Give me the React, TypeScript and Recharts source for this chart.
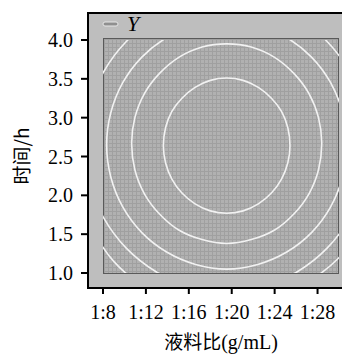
import React from 'react';
import { ComposedChart, Line, XAxis, YAxis, Legend } from 'recharts';

// axis ticks
const xTicks = [8, 12, 16, 20, 24, 28];
const yTicks = [1.0, 1.5, 2.0, 2.5, 3.0, 3.5, 4.0];
const legendLabel = 'Y';

// contour lines, [ratio, time]
const contour1 = [
  [25.43, 2.64], [25.23, 2.87], [24.64, 3.08], [23.7, 3.25], [22.48, 3.39], [21.06, 3.48],
  [19.53, 3.51], [18.0, 3.48], [16.58, 3.39], [15.36, 3.25], [14.42, 3.08], [13.83, 2.87],
  [13.63, 2.64], [13.83, 2.42], [14.42, 2.21], [15.36, 2.03], [16.58, 1.89], [18.0, 1.8],
  [19.53, 1.77], [21.06, 1.8], [22.48, 1.89], [23.7, 2.03], [24.64, 2.21], [25.23, 2.42],
];
const contour2 = [
  [28.39, 2.67], [28.09, 3.0], [27.2, 3.31], [25.79, 3.57], [23.96, 3.78], [21.82, 3.91],
  [19.53, 3.95], [17.24, 3.91], [15.1, 3.78], [13.27, 3.57], [11.86, 3.31], [10.97, 3.0],
  [10.67, 2.67], [10.97, 2.33], [11.86, 2.02], [13.27, 1.76], [15.1, 1.55], [17.24, 1.43],
  [19.53, 1.38], [21.82, 1.43], [23.96, 1.55], [25.79, 1.76], [27.2, 2.02], [28.09, 2.33],
];
const contour3 = [
  [30.72, 2.65], [30.34, 3.06], [29.22, 3.45], [27.44, 3.78], [25.13, 4.03], [22.43, 4.19],
  [19.53, 4.25], [16.63, 4.19], [13.93, 4.03], [11.62, 3.78], [9.84, 3.45], [8.72, 3.06],
  [8.34, 2.65], [8.72, 2.24], [9.84, 1.85], [11.62, 1.52], [13.93, 1.27], [16.63, 1.11],
  [19.53, 1.05], [22.43, 1.11], [25.13, 1.27], [27.44, 1.52], [29.22, 1.85], [30.34, 2.24],
];
const contour4 = [
  [32.77, 2.65], [32.32, 3.14], [31.0, 3.59], [28.89, 3.98], [26.15, 4.28], [22.96, 4.47],
  [19.53, 4.53], [16.1, 4.47], [12.91, 4.28], [10.17, 3.98], [8.06, 3.59], [6.74, 3.14],
  [6.29, 2.65], [6.74, 2.16], [8.06, 1.71], [10.17, 1.32], [12.91, 1.02], [16.1, 0.83],
  [19.53, 0.77], [22.96, 0.83], [26.15, 1.02], [28.89, 1.32], [31.0, 1.71], [32.32, 2.16],
];
const contour5 = [
  [34.26, 2.65], [33.76, 3.18], [32.29, 3.68], [29.95, 4.11], [26.9, 4.43], [23.34, 4.64],
  [19.53, 4.71], [15.72, 4.64], [12.16, 4.43], [8.8, 4.2], [6.6, 3.75], [5.3, 3.18],
  [4.8, 2.65], [5.3, 2.12], [6.77, 1.62], [9.0, 1.15], [12.0, 0.82], [15.72, 0.66],
  [19.53, 0.59], [23.34, 0.66], [26.9, 0.87], [29.95, 1.19], [32.29, 1.62], [33.76, 2.12],
];

const contours = [contour1, contour2, contour3, contour4, contour5].map((c) =>
  c.map(([x, y]) => ({ x, y }))
);

const serif = "'Liberation Serif', 'Times New Roman', serif";
const cjk = "'Noto Sans CJK SC', 'Noto Sans', sans-serif";

// smooth closed curve through the points (closed Catmull-Rom)
const smoothClosed: any = (context: any) => {
  let pts: number[][] = [];
  return {
    areaStart() {},
    areaEnd() {},
    lineStart() {
      pts = [];
    },
    point(x: number, y: number) {
      pts.push([+x, +y]);
    },
    lineEnd() {
      const n = pts.length;
      if (!n) return;
      context.moveTo(pts[0][0], pts[0][1]);
      for (let i = 0; i < n; i++) {
        const p0 = pts[(i - 1 + n) % n];
        const p1 = pts[i];
        const p2 = pts[(i + 1) % n];
        const p3 = pts[(i + 2) % n];
        context.bezierCurveTo(
          p1[0] + (p2[0] - p0[0]) / 6,
          p1[1] + (p2[1] - p0[1]) / 6,
          p2[0] - (p3[0] - p1[0]) / 6,
          p2[1] - (p3[1] - p1[1]) / 6,
          p2[0],
          p2[1]
        );
      }
      context.closePath();
    },
  };
};

const XTick = (props: any) => {
  const { x, y, payload } = props;
  return (
    <g>
      <line x1={x} x2={x} y1={y + 15} y2={y + 20} stroke='#000' strokeWidth={2} />
      <text x={x} y={y + 45} textAnchor='middle' fontFamily={serif} fontSize={20} fill='#000'>
        {'1:' + payload.value}
      </text>
    </g>
  );
};

const YTick = (props: any) => {
  const { x, y, payload } = props;
  return (
    <g>
      <line x1={x - 22} x2={x - 16} y1={y} y2={y} stroke='#000' strokeWidth={2} />
      <text x={x - 30} y={y + 7} textAnchor='end' fontFamily={serif} fontSize={20} fill='#000'>
        {Number(payload.value).toFixed(1)}
      </text>
    </g>
  );
};

const XTitle = (props: any) => {
  const vb = props.viewBox;
  return (
    <text x={vb.x + vb.width / 2} y={vb.y + 75} textAnchor='middle' fontSize={19} fill='#000'>
      <tspan fontFamily={cjk}>液料比</tspan>
      <tspan fontFamily={serif} fontSize={20}>(g/mL)</tspan>
    </text>
  );
};

const YTitle = (props: any) => {
  const vb = props.viewBox;
  const cx = 20;
  const cy = vb.y + vb.height / 2;
  return (
    <text
      x={cx}
      y={cy}
      transform={`rotate(-90 ${cx} ${cy})`}
      textAnchor='middle'
      dominantBaseline='central'
      fontFamily={cjk}
      fontSize={19}
      fill='#000'
    >
      时间/h
    </text>
  );
};

const LegendContent = () => (
  <div style={{ display: 'flex', alignItems: 'center', height: 24 }}>
    <svg width={18} height={8}>
      <rect x={1} y={2} width={15} height={4} rx={2} fill='#8f8f8f' stroke='#e6e6e6' strokeWidth={1} />
    </svg>
    <span
      style={{ fontFamily: serif, fontStyle: 'italic', fontSize: 22, marginLeft: 7, lineHeight: '24px' }}
    >
      {legendLabel}
    </span>
  </div>
);

const App = () => {
  return (
    <div style={{ position: 'absolute', left: 0, top: 0, width: 342, height: 355 }}>
      {/* outer axes box */}
      <div
        style={{
          position: 'absolute',
          left: 87,
          top: 12,
          width: 255,
          height: 277,
          boxSizing: 'border-box',
          background: '#bebebe',
          borderTop: '2px solid #000',
          borderLeft: '2px solid #000',
          borderBottom: '2px solid #000',
        }}
      />
      {/* plot area with fine grid */}
      <div
        style={{
          position: 'absolute',
          left: 103,
          top: 38,
          width: 236,
          height: 236,
          boxSizing: 'border-box',
          border: '1px solid #5a5a5a',
          backgroundColor: '#b1b1b1',
          backgroundImage:
            'linear-gradient(to right, #a0a0a0 1px, transparent 1px), linear-gradient(to bottom, #a0a0a0 1px, transparent 1px)',
          backgroundSize: '4px 4px',
        }}
      />
      <div style={{ position: 'absolute', left: 0, top: 0 }}>
        <ComposedChart width={342} height={355} margin={{ top: 38, right: 3, bottom: 0, left: 13 }}>
          <XAxis
            type='number'
            dataKey='x'
            domain={[8, 30]}
            ticks={xTicks}
            interval={0}
            allowDataOverflow
            axisLine={false}
            tickLine={false}
            tickSize={0}
            tickMargin={0}
            height={81}
            tick={<XTick />}
            label={{ content: <XTitle /> }}
          />
          <YAxis
            type='number'
            dataKey='y'
            domain={[1, 4]}
            ticks={yTicks}
            interval={0}
            padding={{ top: 2, bottom: 1 }}
            allowDataOverflow
            axisLine={false}
            tickLine={false}
            tickSize={0}
            tickMargin={0}
            width={90}
            tick={<YTick />}
            label={{ content: <YTitle /> }}
          />
          <Legend
            layout='horizontal'
            verticalAlign='middle'
            align='center'
            wrapperStyle={{ top: 12, left: 102, width: 'auto' }}
            content={<LegendContent />}
          />
          {contours.map((c, i) => (
            <Line
              key={i}
              data={c}
              dataKey='y'
              name={legendLabel}
              type={smoothClosed}
              stroke='#f2f2f2'
              strokeWidth={1.6}
              dot={false}
              activeDot={false}
              isAnimationActive={false}
            />
          ))}
        </ComposedChart>
      </div>
    </div>
  );
};

export default App;
